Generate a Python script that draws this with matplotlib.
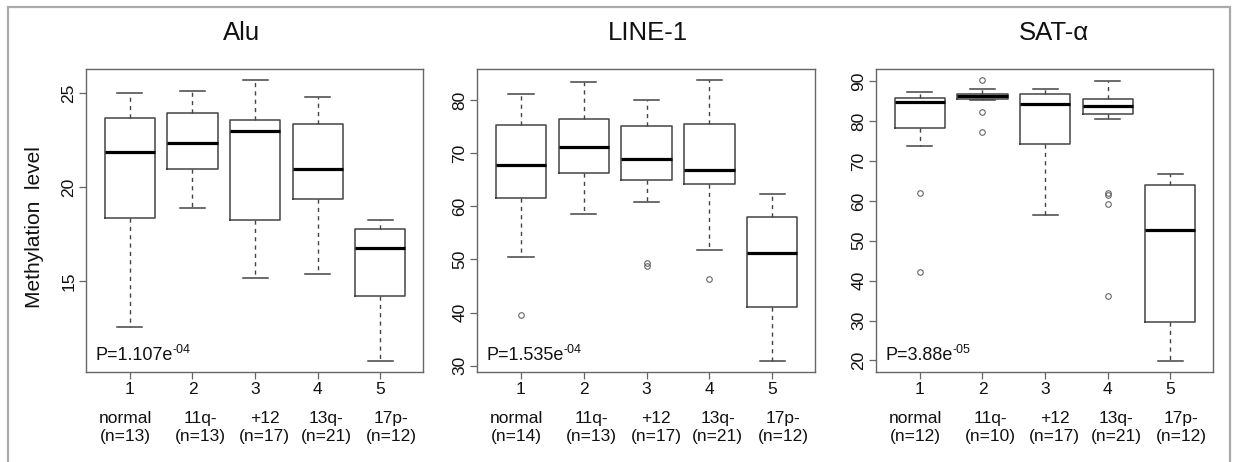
import matplotlib
matplotlib.use("Agg")
import matplotlib.pyplot as plt
from matplotlib.patches import Rectangle
from matplotlib.transforms import blended_transform_factory

plt.rcParams["font.family"] = ["Liberation Sans", "DejaVu Sans"]

# ---- data ----
groups = ["normal", "11q-", "+12", "13q-", "17p-"]
titles = ["Alu", "LINE-1", "SAT-α"]
n_alu = [13, 13, 17, 21, 12]
n_line = [14, 13, 17, 21, 12]
n_sat = [12, 10, 17, 21, 12]
pvals = ["1.107", "1.535", "3.88"]
pexps = ["-04", "-04", "-05"]

# per group: whislo, q1, med, q3, whishi
alu_stats = [
    [12.57, 18.39, 21.90, 23.69, 25.00],
    [18.90, 20.97, 22.38, 23.97, 25.10],
    [15.20, 18.28, 23.01, 23.60, 25.69],
    [15.37, 19.40, 20.99, 23.39, 24.80],
    [10.78, 14.24, 16.77, 17.78, 18.28],
]
alu_fliers = [[], [], [], [], []]

line_stats = [
    [50.48, 61.53, 67.80, 75.29, 81.07],
    [58.58, 66.18, 71.09, 76.36, 83.45],
    [60.78, 64.93, 68.82, 75.16, 79.94],
    [51.80, 64.17, 66.87, 75.42, 83.70],
    [30.95, 41.05, 51.30, 57.95, 62.29],
]
line_fliers = [[39.49], [], [49.4, 48.8], [46.33], []]

sat_stats = [
    [73.82, 78.27, 84.80, 85.88, 87.40],
    [85.30, 85.48, 86.35, 86.90, 87.99],
    [56.34, 74.25, 84.37, 86.90, 88.00],
    [80.53, 81.70, 83.90, 85.63, 90.17],
    [19.92, 29.71, 52.65, 63.88, 66.64],
]
sat_fliers = [[61.87, 42.17], [90.25, 82.29, 77.27], [], [62.1, 61.4, 59.26, 36.07], []]

y_ticks = [[15, 20, 25], [30, 40, 50, 60, 70, 80], [20, 30, 40, 50, 60, 70, 80, 90]]

W, H = 1233, 462
fig = plt.figure(figsize=(W / 100, H / 100), dpi=100)

# outer frame
fig.patches.append(Rectangle((7.5 / W, -0.05), 1222 / W, 1.05 - 7.5 / H,
                             transform=fig.transFigure, fill=False,
                             edgecolor="#aaaaaa", linewidth=1.6))

ax_left = [86, 477, 876]
ax_right = [423, 815, 1213]
title_x = [242, 648, 1054]
label_dx = [-0.07, 0.12, 0.15, 0.13, 0.17]

panels = [
    (alu_stats, alu_fliers, n_alu),
    (line_stats, line_fliers, n_line),
    (sat_stats, sat_fliers, n_sat),
]

edge = "#444444"
txt = "#111111"
for k, (stats, fliers, ns) in enumerate(panels):
    ax = fig.add_axes([ax_left[k] / W, (H - 372) / H,
                       (ax_right[k] - ax_left[k]) / W, (372 - 69) / H])
    bx = []
    for s, f in zip(stats, fliers):
        bx.append({"whislo": s[0], "q1": s[1], "med": s[2], "q3": s[3],
                   "whishi": s[4], "fliers": f})
    ax.bxp(bx, positions=[1, 2, 3, 4, 5], widths=0.8,
           boxprops=dict(color=edge, linewidth=1.1),
           medianprops=dict(color="black", linewidth=2.3, solid_capstyle="butt"),
           whiskerprops=dict(color=edge, linewidth=1.0, linestyle=(0, (3, 3))),
           capprops=dict(color=edge, linewidth=1.1),
           capwidths=0.4,
           flierprops=dict(marker="o", markersize=4, markerfacecolor="none",
                           markeredgecolor="#666666", markeredgewidth=0.8))

    allv = [v for s in stats for v in (s[0], s[4])] + [v for f in fliers for v in f]
    lo, hi = min(allv), max(allv)
    pad = (hi - lo) * 0.04
    ax.set_ylim(lo - pad, hi + pad)
    ax.set_xlim(0.3, 5.68)

    for sp in ax.spines.values():
        sp.set_color("#666666")
        sp.set_linewidth(1.0)
    ax.set_xticks([1, 2, 3, 4, 5])
    ax.set_xticklabels(["1", "2", "3", "4", "5"])
    ax.set_yticks(y_ticks[k])
    ax.set_yticklabels([str(t) for t in y_ticks[k]], rotation=90, va="center")
    ax.tick_params(axis="both", length=5, width=0.9, color="#666666",
                   labelsize=12.5, labelcolor=txt)
    ax.tick_params(axis="x", pad=2.5)
    ax.tick_params(axis="y", pad=2)

    tr = blended_transform_factory(ax.transData, ax.transAxes)
    for i, g in enumerate(groups):
        ax.text(i + 1 + label_dx[i], -0.184, "%s\n(n=%d)" % (g, ns[i]),
                transform=tr, ha="center", va="center", fontsize=12.5,
                linespacing=1.22, color=txt)

    base = ax.text(0.028, 0.056, "P=%se" % pvals[k], transform=ax.transAxes,
                   ha="left", va="center", fontsize=13, color=txt)
    ax.annotate(pexps[k], xy=(1.0, 0.82), xycoords=base, ha="left",
                va="center", fontsize=9, color=txt)

    fig.text(title_x[k] / W, 1 - 33 / H, titles[k], ha="center", va="center",
             fontsize=18.5, color=txt)

fig.text(35 / W, 1 - 227 / H, "Methylation  level", rotation=90,
         ha="center", va="center", fontsize=15, color=txt)

fig.savefig("out.png", dpi=100)
